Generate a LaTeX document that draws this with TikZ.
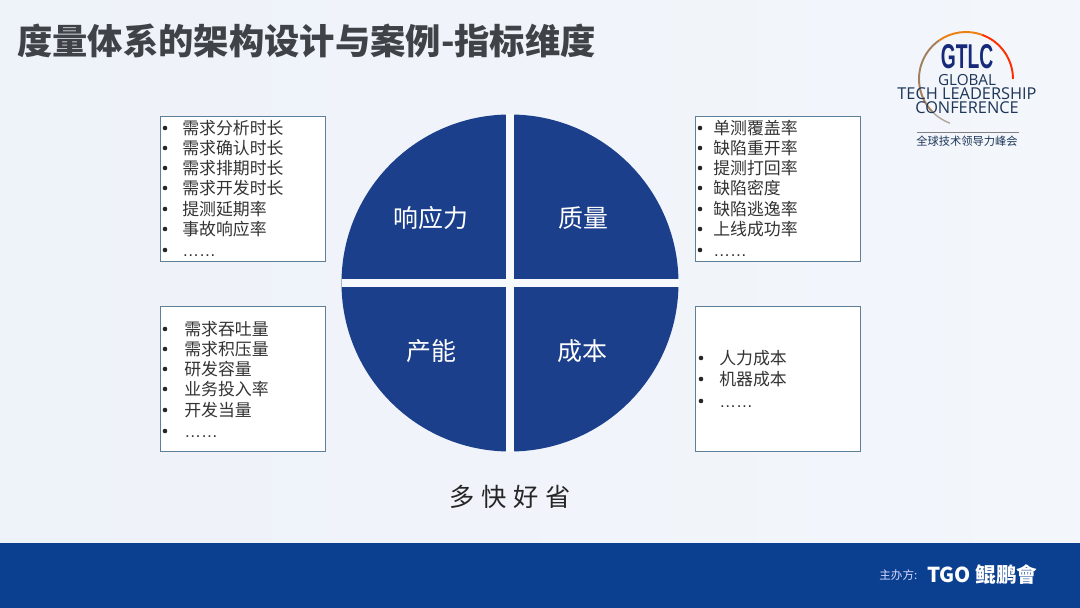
\documentclass[tikz,border=0pt]{standalone}
\usepackage{fontspec}
\setmainfont{Noto Sans CJK SC}
\newfontfamily\latinfont{Liberation Sans}
\newfontfamily\logofont{Open Sans}
\definecolor{slidebg}{HTML}{EEF2F9}
\definecolor{slidebgr}{HTML}{F3F6FB}
\definecolor{bandblue}{HTML}{0B4090}
\definecolor{dialblue}{HTML}{1B3F8B}
\definecolor{titlegray}{HTML}{3F4246}
\definecolor{boxedge}{HTML}{5F7F98}
\definecolor{logonavy}{HTML}{1D3557}
\tikzset{
    listbox/.style={draw=boxedge,fill=white,line width=0.5pt},
    listdot/.style={circle,fill=black!85,inner sep=0pt,minimum size=2.6pt},
    listtext/.style={anchor=west,inner sep=0pt,font=\fontsize{9.6}{11}\selectfont,text=black!80},
    listmore/.style={listtext,font=\latinfont\fontsize{9.6}{11}\selectfont},
    dialtext/.style={inner sep=0pt,font=\fontsize{14.2}{16}\selectfont,text=white},
    logotext/.style={inner sep=0pt,text=logonavy,font=\logofont\fontsize{9.3}{10}\selectfont}
}
\begin{document}
\begin{tikzpicture}[x=0.02cm,y=-0.02cm]
    \useasboundingbox (0,0) rectangle (1080,608);
    % background and band
    \shade[left color=slidebg,right color=slidebgr] (0,0) rectangle (1080,543);
    \fill[bandblue] (0,543) rectangle (1080,608);

    % title
    \node[inner sep=0pt,anchor=west,text=titlegray,font=\fontsize{20.1}{22}\selectfont\bfseries] (title) at (17,41) {度量体系的架构设计与案例-指标维度};

    % logo
    \coordinate (ring) at (966,79);
    \draw[line width=1.1pt,color=red!65!orange] (ring) ++(0:47) arc (0:-70:47);
    \draw[line width=1.1pt,color=orange!70!brown] (ring) ++(-70:47) arc (-70:-125:47);
    \draw[line width=1.1pt,color=brown!55!gray] (ring) ++(-125:47) arc (-125:-225:47);
    \draw[line width=0.8pt,color=brown!30!gray!70] (ring) ++(-225:47) arc (-225:-250:47);
    \node[logotext,text=logonavy!80!blue,font=\latinfont\bfseries\fontsize{19.6}{20}\selectfont,xscale=0.56] (gtlc) at (967,57) {GTLC};
    \node[logotext,font=\logofont\fontsize{8.7}{10}\selectfont] (global) at (967,80) {GLOBAL};
    \node[logotext] (tech) at (967,94) {TECH LEADERSHIP};
    \node[logotext] (conf) at (967,108) {CONFERENCE};
    \draw[line width=0.5pt,color=gray] (917,132) -- (1019,132);
    \node[inner sep=0pt,text=logonavy,font=\fontsize{6.4}{7}\selectfont] (cn) at (967,141) {全球技术领导力峰会};

    % top left list
    \draw[listbox] (160,116) rectangle (325,261);
    \foreach \rowy/\rowtext in {128/需求分析时长,148/需求确认时长,168/需求排期时长,188/需求开发时长,209/提测延期率,229/事故响应率}{
        \node[listdot] (tldot-\rowy) at (165,\rowy) {};
        \node[listtext] (tl-\rowy) at (182,\rowy) {\rowtext};
    }
    \node[listdot] (tldot-more) at (165,250) {};
    \node[listmore] (tl-more) at (182,256) {……};
    % top right list
    \draw[listbox] (695,116) rectangle (860,261);
    \foreach \rowy/\rowtext in {128/单测覆盖率,148/缺陷重开率,168/提测打回率,188/缺陷密度,209/缺陷逃逸率,229/上线成功率}{
        \node[listdot] (trdot-\rowy) at (700,\rowy) {};
        \node[listtext] (tr-\rowy) at (713,\rowy) {\rowtext};
    }
    \node[listdot] (trdot-more) at (700,250) {};
    \node[listmore] (tr-more) at (713,256) {……};
    % bottom left list
    \draw[listbox] (160,306) rectangle (325,451);
    \foreach \rowy/\rowtext in {329/需求吞吐量,349/需求积压量,369/研发容量,389/业务投入率,410/开发当量}{
        \node[listdot] (bldot-\rowy) at (165,\rowy) {};
        \node[listtext] (bl-\rowy) at (184,\rowy) {\rowtext};
    }
    \node[listdot] (bldot-more) at (165,431) {};
    \node[listmore] (bl-more) at (184,437) {……};
    % bottom right list
    \draw[listbox] (695,306) rectangle (860,451);
    \foreach \rowy/\rowtext in {358/人力成本,379/机器成本}{
        \node[listdot] (brdot-\rowy) at (701,\rowy) {};
        \node[listtext] (br-\rowy) at (719,\rowy) {\rowtext};
    }
    \node[listdot] (brdot-more) at (701,401) {};
    \node[listmore] (br-more) at (719,407) {……};

    % dial
    \fill[dialblue] (510,283) circle [radius=168.5];
    \fill[white!50!slidebg] (505.8,114.5) rectangle (514.2,451.5);
    \fill[white!50!slidebg] (341.5,279) rectangle (678.5,287);
    \node[dialtext] (resp) at (431,218) {响应力};
    \node[dialtext] (qual) at (583,218) {质量};
    \node[dialtext] (capa) at (431,351) {产能};
    \node[dialtext] (cost) at (582,351) {成本};

    % slogan
    \node[inner sep=0pt,text=black!85,font=\fontsize{14.4}{16}\selectfont] (slogan) at (510,497) {多\hspace{3.8pt}快\hspace{3.8pt}好\hspace{3.8pt}省};

    % host line
    \node[inner sep=0pt,anchor=west,text=white!85!blue,font=\fontsize{6.6}{7}\selectfont] (host) at (879,575) {主办方:};
    \node[inner sep=0pt,anchor=west,text=white,font=\fontsize{11.7}{13}\selectfont\bfseries] (tgo) at (927,575) {TGO 鲲鹏會};
\end{tikzpicture}
\end{document}
